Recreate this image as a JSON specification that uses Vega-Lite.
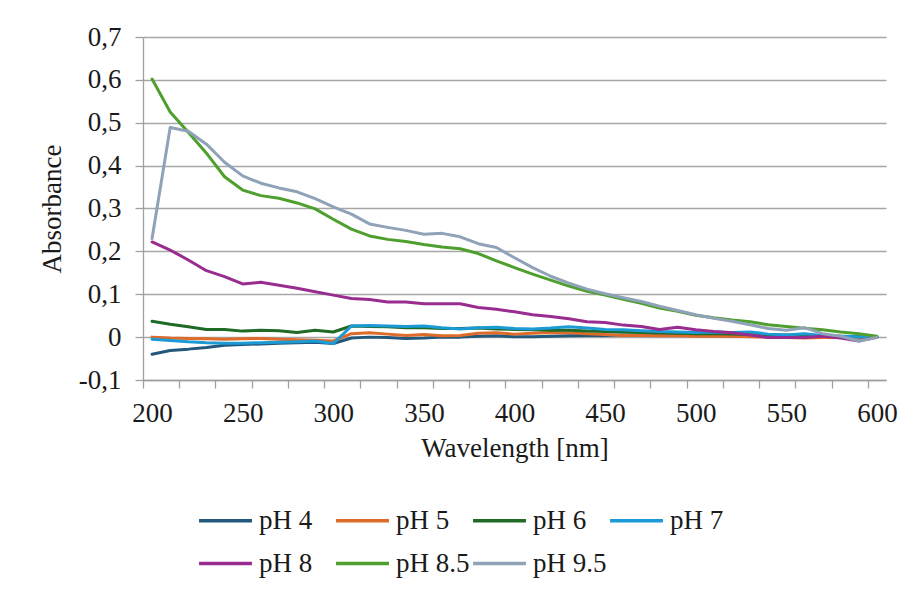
{
  "$schema": "https://vega.github.io/schema/vega-lite/v6.json",
  "width": 743,
  "height": 343,
  "autosize": {"type": "none"},
  "padding": {"left": 143, "top": 37, "right": 28, "bottom": 214},
  "background": "white",
  "config": {
    "font": "Liberation Serif, Times New Roman, serif",
    "view": {"stroke": null},
    "axis": {
      "labelFont": "Liberation Serif, Times New Roman, serif",
      "titleFont": "Liberation Serif, Times New Roman, serif",
      "labelFontSize": 27,
      "titleFontSize": 27,
      "titleFontWeight": "normal",
      "labelColor": "#1a1a1a",
      "titleColor": "#1a1a1a",
      "domainColor": "#a0a0a0",
      "tickColor": "#a0a0a0",
      "gridColor": "#a6a6a6",
      "domainWidth": 1.3,
      "tickWidth": 1.3,
      "gridWidth": 1.3
    },
    "legend": {
      "labelFont": "Liberation Serif, Times New Roman, serif",
      "labelFontSize": 27,
      "labelColor": "#1a1a1a"
    }
  },
  "data": {
    "values": [
      {"nm": 200, "pH 4": -0.040, "pH 5": 0.000, "pH 6": 0.037, "pH 7": -0.005, "pH 8": 0.222, "pH 8_5": 0.602, "pH 9_5": 0.230},
      {"nm": 210, "pH 4": -0.031, "pH 5": -0.002, "pH 6": 0.030, "pH 7": -0.008, "pH 8": 0.203, "pH 8_5": 0.525, "pH 9_5": 0.489},
      {"nm": 220, "pH 4": -0.028, "pH 5": -0.003, "pH 6": 0.024, "pH 7": -0.011, "pH 8": 0.180, "pH 8_5": 0.478, "pH 9_5": 0.480},
      {"nm": 230, "pH 4": -0.024, "pH 5": -0.004, "pH 6": 0.018, "pH 7": -0.013, "pH 8": 0.155, "pH 8_5": 0.429, "pH 9_5": 0.450},
      {"nm": 240, "pH 4": -0.019, "pH 5": -0.005, "pH 6": 0.018, "pH 7": -0.014, "pH 8": 0.141, "pH 8_5": 0.374, "pH 9_5": 0.408},
      {"nm": 250, "pH 4": -0.017, "pH 5": -0.004, "pH 6": 0.014, "pH 7": -0.014, "pH 8": 0.124, "pH 8_5": 0.343, "pH 9_5": 0.376},
      {"nm": 260, "pH 4": -0.016, "pH 5": -0.003, "pH 6": 0.016, "pH 7": -0.013, "pH 8": 0.128, "pH 8_5": 0.330, "pH 9_5": 0.359},
      {"nm": 270, "pH 4": -0.014, "pH 5": -0.005, "pH 6": 0.015, "pH 7": -0.012, "pH 8": 0.121, "pH 8_5": 0.324, "pH 9_5": 0.348},
      {"nm": 280, "pH 4": -0.013, "pH 5": -0.006, "pH 6": 0.011, "pH 7": -0.011, "pH 8": 0.114, "pH 8_5": 0.313, "pH 9_5": 0.339},
      {"nm": 290, "pH 4": -0.012, "pH 5": -0.007, "pH 6": 0.016, "pH 7": -0.009, "pH 8": 0.106, "pH 8_5": 0.299, "pH 9_5": 0.323},
      {"nm": 300, "pH 4": -0.015, "pH 5": -0.009, "pH 6": 0.012, "pH 7": -0.015, "pH 8": 0.098, "pH 8_5": 0.275, "pH 9_5": 0.304},
      {"nm": 310, "pH 4": -0.002, "pH 5": 0.008, "pH 6": 0.026, "pH 7": 0.026, "pH 8": 0.090, "pH 8_5": 0.252, "pH 9_5": 0.287},
      {"nm": 320, "pH 4": 0.000, "pH 5": 0.010, "pH 6": 0.025, "pH 7": 0.027, "pH 8": 0.088, "pH 8_5": 0.236, "pH 9_5": 0.264},
      {"nm": 330, "pH 4": -0.001, "pH 5": 0.007, "pH 6": 0.024, "pH 7": 0.026, "pH 8": 0.082, "pH 8_5": 0.228, "pH 9_5": 0.256},
      {"nm": 340, "pH 4": -0.003, "pH 5": 0.004, "pH 6": 0.022, "pH 7": 0.025, "pH 8": 0.082, "pH 8_5": 0.223, "pH 9_5": 0.249},
      {"nm": 350, "pH 4": -0.002, "pH 5": 0.006, "pH 6": 0.022, "pH 7": 0.026, "pH 8": 0.078, "pH 8_5": 0.216, "pH 9_5": 0.240},
      {"nm": 360, "pH 4": 0.000, "pH 5": 0.003, "pH 6": 0.020, "pH 7": 0.022, "pH 8": 0.078, "pH 8_5": 0.210, "pH 9_5": 0.242},
      {"nm": 370, "pH 4": 0.000, "pH 5": 0.004, "pH 6": 0.020, "pH 7": 0.019, "pH 8": 0.078, "pH 8_5": 0.206, "pH 9_5": 0.234},
      {"nm": 380, "pH 4": 0.002, "pH 5": 0.009, "pH 6": 0.021, "pH 7": 0.022, "pH 8": 0.069, "pH 8_5": 0.195, "pH 9_5": 0.218},
      {"nm": 390, "pH 4": 0.003, "pH 5": 0.010, "pH 6": 0.019, "pH 7": 0.023, "pH 8": 0.065, "pH 8_5": 0.178, "pH 9_5": 0.209},
      {"nm": 400, "pH 4": 0.001, "pH 5": 0.007, "pH 6": 0.018, "pH 7": 0.020, "pH 8": 0.059, "pH 8_5": 0.162, "pH 9_5": 0.185},
      {"nm": 410, "pH 4": 0.001, "pH 5": 0.009, "pH 6": 0.017, "pH 7": 0.019, "pH 8": 0.052, "pH 8_5": 0.147, "pH 9_5": 0.162},
      {"nm": 420, "pH 4": 0.002, "pH 5": 0.011, "pH 6": 0.016, "pH 7": 0.021, "pH 8": 0.048, "pH 8_5": 0.133, "pH 9_5": 0.142},
      {"nm": 430, "pH 4": 0.003, "pH 5": 0.010, "pH 6": 0.016, "pH 7": 0.024, "pH 8": 0.043, "pH 8_5": 0.119, "pH 9_5": 0.126},
      {"nm": 440, "pH 4": 0.004, "pH 5": 0.008, "pH 6": 0.014, "pH 7": 0.021, "pH 8": 0.036, "pH 8_5": 0.107, "pH 9_5": 0.112},
      {"nm": 450, "pH 4": 0.004, "pH 5": 0.006, "pH 6": 0.013, "pH 7": 0.018, "pH 8": 0.034, "pH 8_5": 0.098, "pH 9_5": 0.101},
      {"nm": 460, "pH 4": 0.005, "pH 5": 0.004, "pH 6": 0.012, "pH 7": 0.017, "pH 8": 0.028, "pH 8_5": 0.088, "pH 9_5": 0.092},
      {"nm": 470, "pH 4": 0.005, "pH 5": 0.004, "pH 6": 0.011, "pH 7": 0.015, "pH 8": 0.025, "pH 8_5": 0.079, "pH 9_5": 0.083},
      {"nm": 480, "pH 4": 0.005, "pH 5": 0.003, "pH 6": 0.010, "pH 7": 0.013, "pH 8": 0.018, "pH 8_5": 0.068, "pH 9_5": 0.072},
      {"nm": 490, "pH 4": 0.004, "pH 5": 0.003, "pH 6": 0.009, "pH 7": 0.012, "pH 8": 0.023, "pH 8_5": 0.060, "pH 9_5": 0.062},
      {"nm": 500, "pH 4": 0.004, "pH 5": 0.002, "pH 6": 0.008, "pH 7": 0.011, "pH 8": 0.017, "pH 8_5": 0.051, "pH 9_5": 0.052},
      {"nm": 510, "pH 4": 0.004, "pH 5": 0.002, "pH 6": 0.008, "pH 7": 0.012, "pH 8": 0.013, "pH 8_5": 0.045, "pH 9_5": 0.044},
      {"nm": 520, "pH 4": 0.003, "pH 5": 0.002, "pH 6": 0.007, "pH 7": 0.011, "pH 8": 0.010, "pH 8_5": 0.040, "pH 9_5": 0.037},
      {"nm": 530, "pH 4": 0.003, "pH 5": 0.001, "pH 6": 0.006, "pH 7": 0.012, "pH 8": 0.005, "pH 8_5": 0.036, "pH 9_5": 0.029},
      {"nm": 540, "pH 4": 0.003, "pH 5": 0.000, "pH 6": 0.005, "pH 7": 0.007, "pH 8": -0.001, "pH 8_5": 0.029, "pH 9_5": 0.020},
      {"nm": 550, "pH 4": 0.002, "pH 5": -0.001, "pH 6": 0.005, "pH 7": 0.005, "pH 8": -0.001, "pH 8_5": 0.025, "pH 9_5": 0.016},
      {"nm": 560, "pH 4": 0.002, "pH 5": -0.002, "pH 6": 0.004, "pH 7": 0.008, "pH 8": -0.001, "pH 8_5": 0.021, "pH 9_5": 0.022},
      {"nm": 570, "pH 4": 0.002, "pH 5": -0.001, "pH 6": 0.003, "pH 7": 0.004, "pH 8": 0.002, "pH 8_5": 0.017, "pH 9_5": 0.008},
      {"nm": 580, "pH 4": 0.001, "pH 5": -0.001, "pH 6": 0.002, "pH 7": 0.002, "pH 8": -0.002, "pH 8_5": 0.012, "pH 9_5": 0.002},
      {"nm": 590, "pH 4": 0.000, "pH 5": 0.000, "pH 6": 0.001, "pH 7": 0.001, "pH 8": -0.009, "pH 8_5": 0.008, "pH 9_5": -0.009},
      {"nm": 600, "pH 4": 0.000, "pH 5": 0.000, "pH 6": 0.000, "pH 7": 0.000, "pH 8": 0.000, "pH 8_5": 0.002, "pH 9_5": -0.001}
    ]
  },
  "transform": [
    {"fold": ["pH 4", "pH 5", "pH 6", "pH 7", "pH 8", "pH 8_5", "pH 9_5"], "as": ["series", "absorbance"]}
  ],
  "mark": {"type": "line", "strokeWidth": 3, "strokeJoin": "round", "strokeCap": "round"},
  "encoding": {
    "x": {
      "field": "nm",
      "type": "quantitative",
      "scale": {"domain": [195, 605], "nice": false, "zero": false},
      "axis": {
        "title": "Wavelength [nm]",
        "values": [195, 200, 215, 235, 250, 255, 275, 295, 300, 315, 335, 350, 355, 375, 395, 400, 415, 435, 450, 455, 475, 495, 500, 515, 535, 550, 555, 575, 595, 600],
        "labelExpr": "datum.value % 50 == 0 ? datum.label : ''",
        "tickOpacity": {"condition": {"test": "datum.value % 50 == 0", "value": 0}, "value": 1},
        "tickSize": 8,
        "grid": false,
        "labelOverlap": false,
        "labelPadding": 12,
        "titlePadding": 9,
        "labelFlush": false
      }
    },
    "y": {
      "field": "absorbance",
      "type": "quantitative",
      "scale": {"domain": [-0.1, 0.7], "nice": false, "zero": false},
      "axis": {
        "title": "Absorbance",
        "values": [-0.1, 0, 0.1, 0.2, 0.3, 0.4, 0.5, 0.6, 0.7],
        "labelExpr": "datum.value == 0 ? '0' : replace(replace(format(datum.value, '.1f'), '.', ','), '\u2212', '-')",
        "tickSize": 8,
        "labelPadding": 14,
        "titlePadding": 12,
        "labelFlush": false,
        "grid": true
      }
    },
    "color": {
      "field": "series",
      "type": "nominal",
      "sort": ["pH 4", "pH 5", "pH 6", "pH 7", "pH 8", "pH 8_5", "pH 9_5"],
      "scale": {
        "domain": ["pH 4", "pH 5", "pH 6", "pH 7", "pH 8", "pH 8_5", "pH 9_5"],
        "range": ["#22587B", "#DD6B2A", "#1F6A25", "#1C9AD6", "#992D8F", "#4E9F2E", "#8FA2B8"]
      },
      "legend": {
        "title": null,
        "orient": "none",
        "direction": "horizontal",
        "columns": 4,
        "legendX": 54,
        "legendY": 455,
        "labelExpr": "replace(datum.label, '_', '.')",
        "symbolType": "stroke",
        "symbolSize": 2800,
        "symbolStrokeWidth": 3.5,
        "labelOffset": 5,
        "columnPadding": -4,
        "rowPadding": 1,
        "gridAlign": "all"
      }
    }
  }
}
